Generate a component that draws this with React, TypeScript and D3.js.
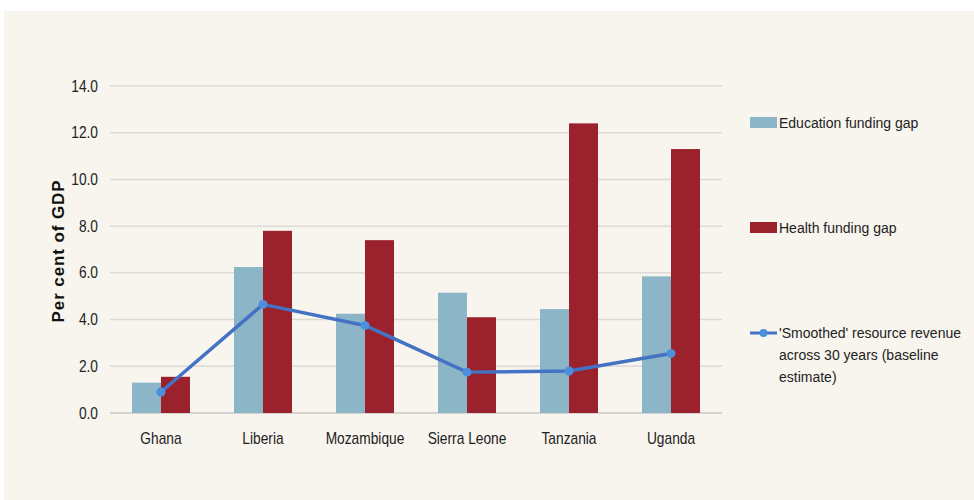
import React, { useEffect, useRef } from 'react'
import * as d3 from 'd3'

const countries = ['Ghana', 'Liberia', 'Mozambique', 'Sierra Leone', 'Tanzania', 'Uganda']
const education = [1.3, 6.25, 4.25, 5.15, 4.45, 5.85]
const health = [1.55, 7.8, 7.4, 4.1, 12.4, 11.3]
const smoothed = [0.9, 4.65, 3.75, 1.75, 1.8, 2.55]
const yTicks = [0, 2, 4, 6, 8, 10, 12, 14]

const EDU = '#8cb6c7'
const HEALTH = '#9b222d'
const LINE = '#4472c4'
const MARK = '#4d8fdc'

export default function App() {
  const svgRef = useRef<SVGSVGElement>(null)

  useEffect(() => {
    const width = 974, height = 500
    const svg = d3.select(svgRef.current).attr('width', width).attr('height', height)
    svg.selectAll('*').remove()

    svg.append('rect').attr('x', 4).attr('y', 11).attr('width', width - 4).attr('height', height - 11).attr('fill', '#f8f5ef')

    const left = 110, right = 722, top = 86, bottom = 413
    const x = d3.scaleBand().domain(countries).range([left, right])
    const y = d3.scaleLinear().domain([0, 14]).range([bottom, top])
    const barW = 29
    const sans = '"Liberation Sans", Arial, sans-serif'
    const sq = 0.86 // squeeze for the narrow axis font

    // gridlines
    svg.append('g').selectAll('line').data(yTicks).join('line')
      .attr('x1', left).attr('x2', right)
      .attr('y1', d => y(d)).attr('y2', d => y(d))
      .attr('stroke', d => d === 0 ? '#d6d3d0' : '#dcd9d6').attr('stroke-width', d => d === 0 ? 2 : 1.5)

    svg.append('g').selectAll('text').data(yTicks).join('text')
      .attr('transform', d => `translate(98,${y(d) + 5.5}) scale(${sq},1)`).attr('text-anchor', 'end')
      .attr('font-family', sans).attr('font-size', 16).attr('fill', '#222')
      .text(d => d.toFixed(1))

    svg.append('text').attr('transform', `translate(64,251) rotate(-90)`)
      .attr('text-anchor', 'middle').attr('font-family', sans).attr('font-weight', 'bold')
      .attr('font-size', 17).attr('letter-spacing', 0.9)
      .attr('fill', '#111').text('Per cent of GDP')

    const cx = (c: string) => (x(c) as number) + x.bandwidth() / 2

    svg.append('g').selectAll('rect').data(countries).join('rect')
      .attr('x', d => cx(d) - barW).attr('width', barW)
      .attr('y', (d, i) => y(education[i])).attr('height', (d, i) => bottom - y(education[i]))
      .attr('fill', EDU)
    svg.append('g').selectAll('rect').data(countries).join('rect')
      .attr('x', d => cx(d)).attr('width', barW)
      .attr('y', (d, i) => y(health[i])).attr('height', (d, i) => bottom - y(health[i]))
      .attr('fill', HEALTH)

    const line = d3.line<number>().x((d, i) => cx(countries[i])).y(d => y(d))
    svg.append('path').attr('d', line(smoothed)).attr('fill', 'none')
      .attr('stroke', LINE).attr('stroke-width', 3.5).attr('stroke-linejoin', 'round')
    svg.append('g').selectAll('circle').data(smoothed).join('circle')
      .attr('cx', (d, i) => cx(countries[i])).attr('cy', d => y(d)).attr('r', 4.5).attr('fill', MARK)

    svg.append('g').selectAll('text').data(countries).join('text')
      .attr('transform', d => `translate(${cx(d)},444) scale(${sq},1)`).attr('text-anchor', 'middle')
      .attr('font-family', sans).attr('font-size', 16).attr('fill', '#222')
      .text(d => d)

    // legend
    const lg = svg.append('g').attr('font-family', sans).attr('font-size', 14).attr('fill', '#222')
    lg.append('rect').attr('x', 750).attr('y', 117).attr('width', 27).attr('height', 11).attr('fill', EDU)
    lg.append('text').attr('x', 779).attr('y', 128).text('Education funding gap')
    lg.append('rect').attr('x', 750).attr('y', 222).attr('width', 27).attr('height', 11).attr('fill', HEALTH)
    lg.append('text').attr('x', 779).attr('y', 233).text('Health funding gap')
    lg.append('line').attr('x1', 750).attr('x2', 777).attr('y1', 333).attr('y2', 333)
      .attr('stroke', LINE).attr('stroke-width', 3)
    lg.append('circle').attr('cx', 763.5).attr('cy', 333).attr('r', 4).attr('fill', MARK)
    const t = lg.append('text').attr('x', 779).attr('y', 338)
    ;["'Smoothed' resource revenue", 'across 30 years (baseline', 'estimate)'].forEach((s, i) => {
      t.append('tspan').attr('x', 779).attr('dy', i === 0 ? 0 : 22).text(s)
    })
  }, [])

  return <svg ref={svgRef} style={{ position: 'absolute', left: 0, top: 0, display: 'block' }} />
}
